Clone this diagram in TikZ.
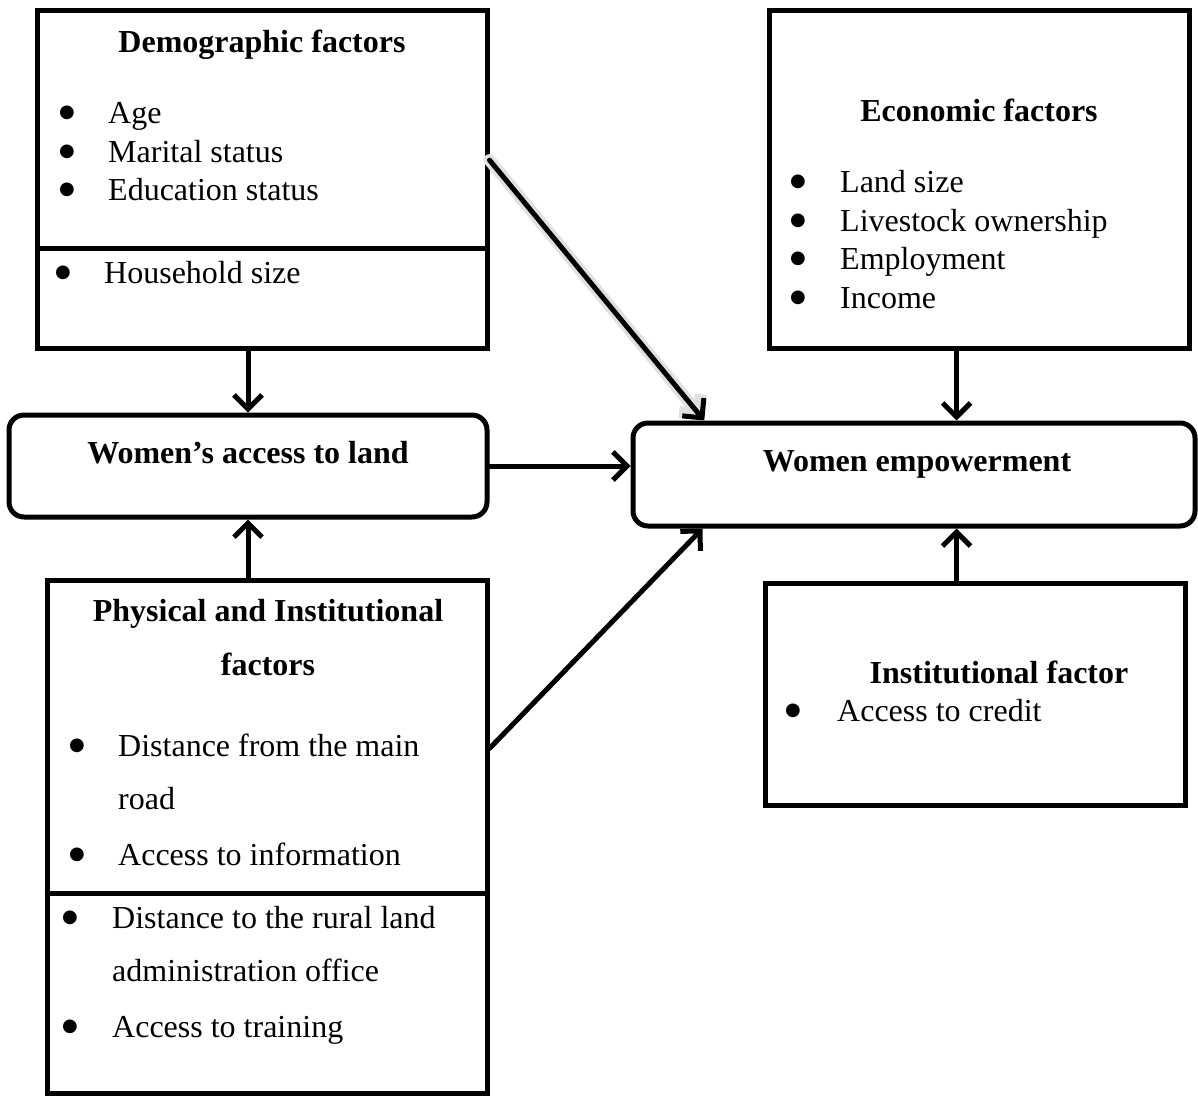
\documentclass[tikz,border=0pt]{standalone}
\usepackage{fontspec}
\setmainfont{Liberation Serif}
\newfontfamily\symfont{DejaVu Sans}
\usetikzlibrary{arrows.meta,calc}
\begin{document}
\begin{tikzpicture}[x=1pt,y=-1pt,
  box/.style={draw, line width=5pt, rectangle, inner sep=0pt},
  rbox/.style={box, rounded corners=15pt},
  txt/.style={inner sep=0pt, anchor=base west, font=\fontsize{32}{38}\selectfont},
  ttl/.style={inner sep=0pt, anchor=base, font=\fontsize{32}{38}\selectfont\bfseries},
  bul/.style={inner sep=0pt, anchor=center, font=\symfont\fontsize{18}{18}\selectfont},
  arr/.style={line width=5pt, -{Straight Barb[length=14pt,width=28pt]}, line cap=round, line join=round},
  glow/.style={arr, draw=black!12, line width=12pt},
  divider/.style={line width=5pt}
]
\useasboundingbox (0,0) rectangle (1198,1095);

% boxes
\node[box, minimum width=450pt, minimum height=338pt] (demo) at (262,179) {};
\node[box, minimum width=420pt, minimum height=338pt] (econ) at (979,179) {};
\node[rbox, minimum width=478pt, minimum height=102pt] (access) at (248,466) {};
\node[rbox, minimum width=562pt, minimum height=103pt] (empow) at (914,474.5) {};
\node[box, minimum width=440pt, minimum height=513pt] (phys) at (267,836.5) {};
\node[box, minimum width=420pt, minimum height=222pt] (inst) at (975,694) {};

% dividers
\draw[divider] (demo.west |- 0,248) -- (demo.east |- 0,248);
\draw[divider] (phys.west |- 0,893) -- (phys.east |- 0,893);

% Demographic texts
\node[ttl] (dT) at (262,52) {Demographic factors};
\node[bul] (dB1) at (67,113) {●};
\node[txt] (d1) at (108,123) {Age};
\node[bul] (dB2) at (67,152) {●};
\node[txt] (d2) at (108,162) {Marital status};
\node[bul] (dB3) at (67,190) {●};
\node[txt] (d3) at (108,200) {Education status};
\node[bul] (dB4) at (63,273) {●};
\node[txt] (d4) at (104,283) {Household size};

% Economic texts
\node[ttl] (eT) at (979,121) {Economic factors};
\node[bul] (eB1) at (798,182) {●};
\node[txt] (e1) at (840,192) {Land size};
\node[bul] (eB2) at (798,221) {●};
\node[txt] (e2) at (840,231) {Livestock ownership};
\node[bul] (eB3) at (798,259) {●};
\node[txt] (e3) at (840,269) {Employment};
\node[bul] (eB4) at (798,298) {●};
\node[txt] (e4) at (840,308) {Income};

% central texts
\node[ttl] (aT) at (248,463) {Women’s access to land};
\node[ttl] (wT) at (917,471) {Women empowerment};

% Physical texts
\node[ttl] (pT1) at (268,621) {Physical and Institutional};
\node[ttl] (pT2) at (268,675) {factors};
\node[bul] (pB1) at (77,746) {●};
\node[txt] (p1) at (118,756) {Distance from the main};
\node[txt] (p1b) at (118,809) {road};
\node[bul] (pB2) at (77,855) {●};
\node[txt] (p2) at (118,865) {Access to information};
\node[bul] (pB3) at (70,918) {●};
\node[txt] (p3) at (112,928) {Distance to the rural land};
\node[txt] (p3b) at (112,981) {administration office};
\node[bul] (pB4) at (70,1027) {●};
\node[txt] (p4) at (112,1037) {Access to training};

% Institutional texts
\node[ttl] (iT) at (999,683) {Institutional factor};
\node[bul] (iB1) at (793,711) {●};
\node[txt] (i1) at (837,721) {Access to credit};

% anchor coordinates for connectors
\coordinate (eTop) at ($(empow.north west)!0.575!(empow.north east)$);
\coordinate (eBot) at ($(empow.south west)!0.575!(empow.south east)$);
\coordinate (dOut) at ($(demo.north east)!0.445!(demo.south east)$);
\coordinate (eTL) at ($(empow.north west)!0.13!(empow.north east)$);
\coordinate (pOut) at ($(phys.north east)!0.33!(phys.south east)$);
\coordinate (eBL) at ($(empow.south west)!0.127!(empow.south east)$);

% connectors
\draw[glow] (dOut) -- (eTL);
\draw[arr] (dOut) -- (eTL);
\draw[arr] (access.north |- demo.south) -- (access.north);
\draw[arr] (access.south |- phys.north) -- (access.south);
\draw[arr] (access.east) -- (access.east -| empow.west);
\draw[arr] (pOut) -- (eBL);
\draw[arr] (econ.south -| eTop) -- (eTop);
\draw[arr] (inst.north -| eBot) -- (eBot);
\end{tikzpicture}
\end{document}
